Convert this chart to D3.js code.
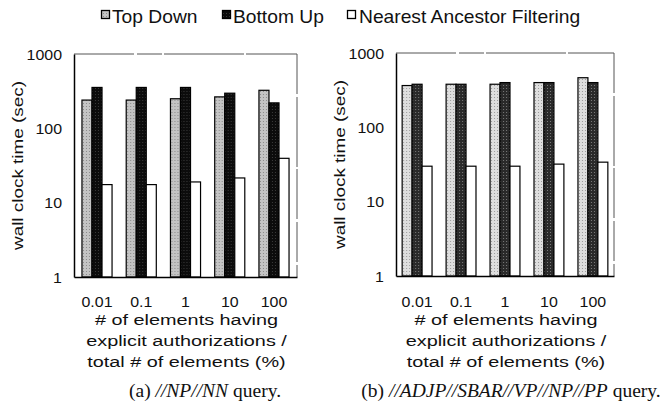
<!DOCTYPE html>
<html>
<head>
<meta charset="utf-8">
<script src="https://cdn.jsdelivr.net/npm/d3@7"></script>
<style>
  body { margin: 0; background: #fff; }
  svg { display: block; }
</style>
</head>
<body>
<div id="chart"></div>
<script>
// categories and series
const categories = ["0.01", "0.1", "1", "10", "100"];
const seriesNames = ["Top Down", "Bottom Up", "Nearest Ancestor Filtering"];
const yTicks = [1, 10, 100, 1000];

// (a) //NP//NN query
const npnnTopDown = [240, 240, 250, 265, 325];
const npnnBottomUp = [355, 355, 355, 297, 220];
const npnnNearest = [17.5, 17.5, 19, 21.5, 39.5];

// (b) //ADJP//SBAR//VP//NP//PP query
const adjpTopDown = [365, 380, 380, 400, 465];
const adjpBottomUp = [380, 380, 400, 400, 400];
const adjpNearest = [30, 30, 30, 32, 34];

const W = 667, H = 416;
const sans = "'Liberation Sans', Arial, sans-serif";
const serif = "'Liberation Serif', 'Times New Roman', serif";

var svg = d3.select("#chart").append("svg").attr("width", W).attr("height", H);

// halftone-ish fills
var defs = svg.append("defs");
function dotPattern(id, base, dot) {
	var p = defs.append("pattern").attr("id", id).attr("width", 3).attr("height", 3)
		.attr("patternUnits", "userSpaceOnUse");
	p.append("rect").attr("width", 3).attr("height", 3).attr("fill", base);
	p.append("rect").attr("x", 1).attr("y", 1).attr("width", 1).attr("height", 1).attr("fill", dot);
}
dotPattern("tdA", "#c4c4c4", "#8a8a8a");
dotPattern("buA", "#0c0c0c", "#3a3a3a");
dotPattern("tdB", "#dedede", "#9a9a9a");
dotPattern("buB", "#2a2a2a", "#7a7a7a");

// text stretched sideways, the original font is wider than Arial
function sText(parent, x, y, str, size, sx, anchor, family, rot) {
	var t = parent.append("text")
		.attr("transform", "translate(" + x + "," + y + ")" + (rot ? " rotate(" + rot + ")" : "") + " scale(" + sx + ",1)")
		.attr("text-anchor", anchor || "start")
		.attr("font-family", family || sans)
		.attr("font-size", size)
		.attr("fill", "#111")
		.text(str);
	return t;
}

// legend
var legendItems = [
	{ name: seriesNames[0], sq: 101, tx: 112, fill: "url(#tdA)" },
	{ name: seriesNames[1], sq: 222, tx: 233, fill: "url(#buA)" },
	{ name: seriesNames[2], sq: 347, tx: 359, fill: "#fff" }
];
var lg = svg.append("g");
legendItems.forEach(function(d) {
	lg.append("rect").attr("x", d.sq + 0.5).attr("y", 10.5).attr("width", 8).attr("height", 8)
		.attr("fill", d.fill).attr("stroke", "#000").attr("stroke-width", 1.3);
	sText(lg, d.tx, 22.5, d.name, 17.5, 1.1);
});

function drawPanel(cfg) {
	var g = svg.append("g");
	var x0 = d3.scaleBand().domain(categories).range([cfg.left, cfg.right])
		.paddingInner(0.32).paddingOuter(cfg.pad);
	var x1 = d3.scaleBand().domain(seriesNames).range([0, x0.bandwidth()]);
	var y = d3.scaleLog().domain([1, 1000]).range([cfg.bottom, cfg.top]);

	// frame: top/right faint
	g.append("line").attr("x1", cfg.left).attr("x2", cfg.right).attr("y1", cfg.top).attr("y2", cfg.top)
		.attr("stroke", "#555").attr("stroke-width", 1).attr("stroke-dasharray", "60,3,25,2,80,2");
	g.append("line").attr("x1", cfg.right).attr("x2", cfg.right).attr("y1", cfg.top).attr("y2", cfg.bottom)
		.attr("stroke", "#555").attr("stroke-width", 1).attr("stroke-dasharray", "40,3,70,2,50,3");

	var rows = categories.map(function(c, i) {
		return [
			{ cat: c, s: seriesNames[0], v: cfg.td[i], fill: cfg.tdFill },
			{ cat: c, s: seriesNames[1], v: cfg.bu[i], fill: cfg.buFill },
			{ cat: c, s: seriesNames[2], v: cfg.na[i], fill: "#fff" }
		];
	});

	g.selectAll(".grp").data(rows).enter().append("g")
		.attr("transform", function(d) { return "translate(" + x0(d[0].cat) + ",0)"; })
		.selectAll("rect").data(function(d) { return d; }).enter().append("rect")
		.attr("x", function(d) { return x1(d.s); })
		.attr("y", function(d) { return y(d.v); })
		.attr("width", x1.bandwidth())
		.attr("height", function(d) { return cfg.bottom - y(d.v); })
		.attr("fill", function(d) { return d.fill; })
		.attr("stroke", "#000").attr("stroke-width", 1.2);

	// axes without tick marks
	var ya = g.append("g").attr("transform", "translate(" + cfg.left + ",0)")
		.call(d3.axisLeft(y).tickValues(yTicks).tickFormat(d3.format("d")).tickSize(0).tickPadding(12));
	ya.select(".domain").attr("stroke", "#000").attr("stroke-width", 1.5);
	ya.selectAll("text").remove();
	yTicks.forEach(function(t) {
		sText(g, cfg.left - 12, y(t) + 5.5, String(t), 14.5, 1.1, "end");
	});

	var xa = g.append("g").attr("transform", "translate(0," + cfg.bottom + ")")
		.call(d3.axisBottom(x0).tickSize(0));
	xa.select(".domain").attr("stroke", "#000").attr("stroke-width", 1.5);
	xa.selectAll("text").remove();
	categories.forEach(function(c) {
		sText(g, x0(c) + x0.bandwidth() / 2, 307, c, 14.5, 1.1, "middle");
	});

	// axis titles
	var cx = (cfg.left + cfg.right) / 2 + 1;
	sText(g, cx, 325, "# of elements having", 15.5, 1.28, "middle");
	sText(g, cx, 346, "explicit authorizations /", 15.5, 1.28, "middle");
	sText(g, cx, 367, "total # of elements (%)", 15.5, 1.28, "middle");
	sText(g, cfg.left - 51, (cfg.top + cfg.bottom) / 2, "wall clock time (sec)", 15.5, 1.22, "middle", sans, -90);

	// caption
	var cap = g.append("text").attr("x", cfg.capX).attr("y", 397).attr("text-anchor", "middle")
		.attr("font-family", serif).attr("font-size", 19.5).attr("fill", "#111");
	cap.append("tspan").text(cfg.capPre);
	cap.append("tspan").attr("font-style", "italic").text(cfg.capQuery);
	cap.append("tspan").text(" query.");
}

drawPanel({
	left: 74, right: 297, top: 54, bottom: 277, pad: 0.18,
	td: npnnTopDown, bu: npnnBottomUp, na: npnnNearest,
	tdFill: "url(#tdA)", buFill: "url(#buA)",
	capX: 205, capPre: "(a) ", capQuery: "//NP//NN"
});
drawPanel({
	left: 396, right: 614, top: 53, bottom: 276, pad: 0.14,
	td: adjpTopDown, bu: adjpBottomUp, na: adjpNearest,
	tdFill: "url(#tdB)", buFill: "url(#buB)",
	capX: 511, capPre: "(b) ", capQuery: "//ADJP//SBAR//VP//NP//PP"
});
</script>
</body>
</html>
